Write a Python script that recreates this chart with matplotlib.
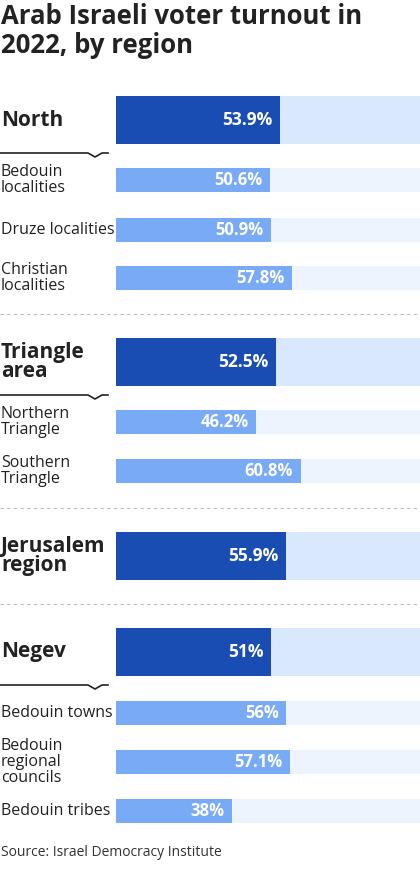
import matplotlib
matplotlib.use("Agg")
import matplotlib.pyplot as plt

plt.rcParams['font.family'] = ['Open Sans', 'DejaVu Sans']

labels = ["North", "Bedouin\nlocalities", "Druze localities", "Christian\nlocalities",
          "Triangle\narea", "Northern\nTriangle", "Southern\nTriangle",
          "Jerusalem\nregion",
          "Negev", "Bedouin towns", "Bedouin\nregional\ncouncils", "Bedouin tribes"]
values = [53.9, 50.6, 50.9, 57.8, 52.5, 46.2, 60.8, 55.9, 51, 56, 57.1, 38]
value_labels = ["53.9%", "50.6%", "50.9%", "57.8%", "52.5%", "46.2%", "60.8%", "55.9%",
                "51%", "56%", "57.1%", "38%"]
is_major = [True, False, False, False, True, False, False, True, True, False, False, False]
has_bracket = [True, False, False, False, True, False, False, False, True, False, False, False]

# layout (pixel rows)
ycent = [120, 180, 230, 278, 362, 422, 471, 556, 652, 713, 762, 811]
separators = [314, 508, 604]

W, H = 420, 882
fig = plt.figure(figsize=(W/100, H/100), dpi=100)
x0 = 116
ax = fig.add_axes([x0/W, 0, 1 - x0/W, 1])
ax.set_xlim(0, 100)
ax.set_ylim(H, 0)
ax.axis('off')

dark, light = "#1a4db3", "#78aaf5"
bg_major, bg_minor = "#d9e8fc", "#edf4fd"

for lab, v, vl, maj, br, y in zip(labels, values, value_labels, is_major, has_bracket, ycent):
    h = 48 if maj else 24
    ax.barh(y, 100, height=h, color=bg_major if maj else bg_minor, left=0)
    ax.barh(y, v, height=h, color=dark if maj else light)
    ax.text(v - 2.5, y, vl, ha='right', va='center', color='white',
            fontsize=12.5 if maj else 12, fontweight='bold')
    if maj:
        fig.text(1/W, 1 - y/H, lab, ha='left', va='center', fontsize=15,
                 fontweight='bold', color='#222222', linespacing=0.85)
    else:
        fig.text(1/W, 1 - y/H, lab, ha='left', va='center', fontsize=11.5,
                 color='#222222', linespacing=1.0)
    if br:
        yb = 1 - (y + 33)/H
        fig.lines.append(plt.Line2D([0, 88/W, 95/W, 102/W, 108/W], [yb, yb, yb - 4/H, yb, yb],
                                    transform=fig.transFigure, color='#222222', lw=1.2))

for s in separators:
    fig.lines.append(plt.Line2D([0, 1], [1 - s/H, 1 - s/H], transform=fig.transFigure,
                                color='#bbbbbb', lw=0.8, ls=(0, (3, 3))))

fig.text(1/W, 1 - 31/H, "Arab Israeli voter turnout in\n2022, by region", ha='left', va='center',
         fontsize=18.5, fontweight='bold', color='#222222', linespacing=1.05)
fig.text(1/W, 1 - 852/H, "Source: Israel Democracy Institute", ha='left', va='center',
         fontsize=10, color='#333333')

fig.savefig("out.png", dpi=100)
